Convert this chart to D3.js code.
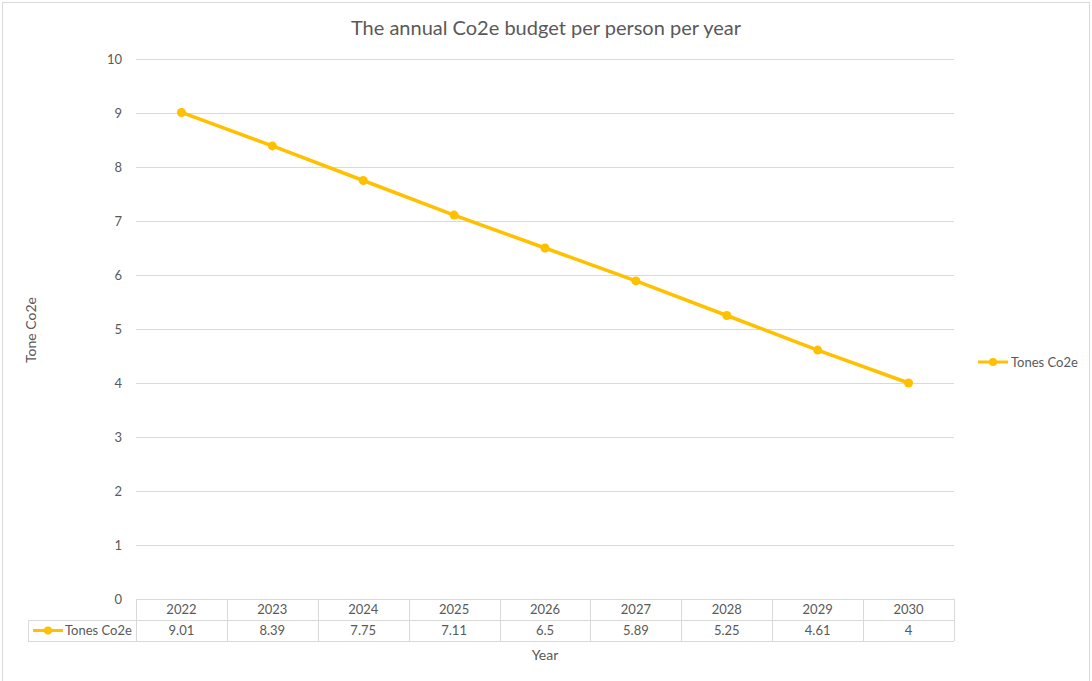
<!DOCTYPE html>
<html>
<head>
<meta charset="utf-8">
<script src="https://cdn.jsdelivr.net/npm/d3@7"></script>
<style>
  html, body { margin: 0; padding: 0; background: #fff; }
  svg { display: block; font-family: Lato, "Open Sans", sans-serif; }
</style>
</head>
<body>
<svg id="chart" width="1092" height="681"></svg>
<script>
// Annual CO2e budget per person, 2022–2030
const years = ["2022", "2023", "2024", "2025", "2026", "2027", "2028", "2029", "2030"];
const tonnes = [9.01, 8.39, 7.75, 7.11, 6.5, 5.89, 5.25, 4.61, 4];
const tonnesLabels = ["9.01", "8.39", "7.75", "7.11", "6.5", "5.89", "5.25", "4.61", "4"];
const yTicks = [0, 1, 2, 3, 4, 5, 6, 7, 8, 9, 10];
const seriesName = "Tones Co2e";

const svg = d3.select("#chart");
const W = 1092, H = 681;
const textColor = "#595959";
const gridColor = "#d9d9d9";
const lineColor = "#ffc000";

const plot = { left: 136, right: 954, top: 59, bottom: 599 };
const rowH = 21;
const tableLeft = 28;

// chart frame
svg.append("rect")
  .attr("x", 2.5).attr("y", 2.5)
  .attr("width", W - 5).attr("height", H + 10)
  .attr("fill", "#fff").attr("stroke", "#d9d9d9").attr("stroke-width", 1);

const x = d3.scaleBand().domain(years).range([plot.left, plot.right]).padding(0);
const y = d3.scaleLinear().domain([0, 10]).range([plot.bottom, plot.top]);

// title
svg.append("text")
  .attr("x", 546).attr("y", 35)
  .attr("text-anchor", "middle")
  .attr("fill", textColor)
  .style("font-size", "20px")
  .text("The annual Co2e budget per person per year");

// horizontal gridlines + y labels
const yAxis = d3.axisLeft(y).tickValues(yTicks).tickSize(0).tickPadding(14).tickFormat(d3.format("d"));
const gy = svg.append("g").attr("transform", `translate(${plot.left},0)`).call(yAxis);
gy.select(".domain").remove();
gy.selectAll("text").attr("fill", textColor).style("font-size", "13px").style("font-family", "Lato, 'Open Sans', sans-serif");
svg.append("g").selectAll("line").data(yTicks).join("line")
  .attr("x1", plot.left).attr("x2", plot.right)
  .attr("y1", d => Math.round(y(d)) + 0.5).attr("y2", d => Math.round(y(d)) + 0.5)
  .attr("stroke", gridColor).attr("stroke-width", 1);

// y axis title
svg.append("text")
  .attr("transform", `translate(36,${(plot.top + plot.bottom) / 2 + 1}) rotate(-90)`)
  .attr("text-anchor", "middle")
  .attr("fill", textColor)
  .style("font-size", "14px")
  .text("Tone Co2e");

// data table under the plot
const table = svg.append("g");
const r1 = plot.bottom, r2 = plot.bottom + rowH, r3 = plot.bottom + 2 * rowH;
table.append("line").attr("x1", tableLeft).attr("x2", plot.right)
  .attr("y1", r2 + 0.5).attr("y2", r2 + 0.5).attr("stroke", gridColor);
table.append("line").attr("x1", tableLeft).attr("x2", plot.right)
  .attr("y1", r3 + 0.5).attr("y2", r3 + 0.5).attr("stroke", gridColor);
table.append("line").attr("x1", tableLeft + 0.5).attr("x2", tableLeft + 0.5)
  .attr("y1", r2).attr("y2", r3).attr("stroke", gridColor);
const bounds = [plot.left].concat(years.map(d => x(d) + x.bandwidth()));
table.selectAll("line.col").data(bounds).join("line").attr("class", "col")
  .attr("x1", d => Math.round(d) + 0.5).attr("x2", d => Math.round(d) + 0.5)
  .attr("y1", r1).attr("y2", r3).attr("stroke", gridColor);

table.selectAll("text.yr").data(years).join("text").attr("class", "yr")
  .attr("x", d => x(d) + x.bandwidth() / 2).attr("y", r1 + 15)
  .attr("text-anchor", "middle").attr("fill", textColor).style("font-size", "13px")
  .text(d => d);
table.selectAll("text.val").data(years).join("text").attr("class", "val")
  .attr("x", d => x(d) + x.bandwidth() / 2).attr("y", r2 + 15)
  .attr("text-anchor", "middle").attr("fill", textColor).style("font-size", "13px")
  .text((d, i) => tonnesLabels[i]);

// legend key in table
function legendKey(g, cx, cy) {
  g.append("line").attr("x1", cx - 15).attr("x2", cx + 15).attr("y1", cy).attr("y2", cy)
    .attr("stroke", lineColor).attr("stroke-width", 3);
  g.append("circle").attr("cx", cx).attr("cy", cy).attr("r", 4).attr("fill", lineColor);
}
legendKey(table, 48, r2 + 10.5);
table.append("text").attr("x", 65).attr("y", r2 + 15)
  .attr("fill", textColor).style("font-size", "13px").text(seriesName);

// x axis title
svg.append("text")
  .attr("x", (plot.left + plot.right) / 2).attr("y", 660)
  .attr("text-anchor", "middle").attr("fill", textColor)
  .style("font-size", "14px").text("Year");

// series line
const pts = years.map((d, i) => [x(d) + x.bandwidth() / 2, y(tonnes[i])]);
svg.append("path")
  .attr("d", d3.line()(pts))
  .attr("fill", "none").attr("stroke", lineColor)
  .attr("stroke-width", 3.5).attr("stroke-linejoin", "round").attr("stroke-linecap", "round");
svg.append("g").selectAll("circle").data(pts).join("circle")
  .attr("cx", d => d[0]).attr("cy", d => d[1]).attr("r", 4.5).attr("fill", lineColor);

// right-hand legend
const lg = svg.append("g");
legendKey(lg, 993, 362);
lg.append("text").attr("x", 1011).attr("y", 366.5)
  .attr("fill", textColor).style("font-size", "13px").text(seriesName);
</script>
</body>
</html>
